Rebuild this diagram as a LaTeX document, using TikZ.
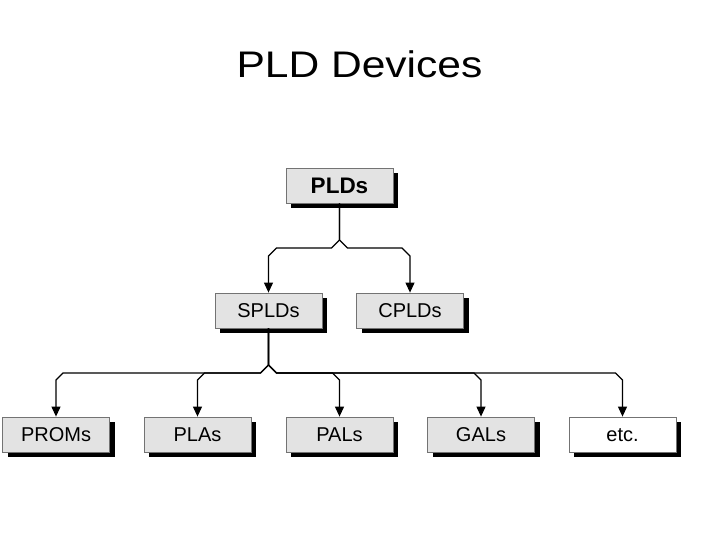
\documentclass[tikz,border=0pt]{standalone}
\usepackage{graphicx}
\usepackage{fontspec}
\setmainfont{Liberation Sans}
\usetikzlibrary{arrows.meta,shadows}
\begin{document}
\begin{tikzpicture}[x=1pt,y=-1pt]
	% Styles
	\tikzstyle{boite}=[draw=gray!90!black,line width=0.8pt,fill=gray!22,minimum width=107pt,minimum height=35pt,inner sep=0pt,text height=14.5pt,text depth=0pt,font=\fontsize{20}{22}\selectfont,drop shadow={shadow xshift=5pt,shadow yshift=-5pt,fill=black,opacity=1}]
	\tikzstyle{racine}=[boite,text height=16pt,font=\fontsize{22.5}{26}\selectfont\bfseries]
	\tikzstyle{vide}=[boite,fill=white]
	\tikzstyle{fleche}=[-{Triangle[length=10pt,width=9pt]},line width=1.1pt]
	% Dimensions
	\def\NiveauA{185.5}
	\def\NiveauB{310.5}
	\def\NiveauC{434.5}
	\useasboundingbox (0,0) rectangle (720,540);
	% Titre
	\node[anchor=base,font=\fontsize{37}{44}\selectfont] (titre) at (359.5,78) {\scalebox{1.15}[1]{PLD Devices}};
	% Noeuds
	\node[racine] (PLDs) at (339.5,\NiveauA) {PLDs};
	\node[boite] (SPLDs) at (268.5,\NiveauB) {SPLDs};
	\node[boite] (CPLDs) at (410,\NiveauB) {CPLDs};
	\node[boite] (PROMs) at (56,\NiveauC) {PROMs};
	\node[boite] (PLAs) at (197.5,\NiveauC) {PLAs};
	\node[boite] (PALs) at (339.5,\NiveauC) {PALs};
	\node[boite] (GALs) at (481,\NiveauC) {GALs};
	\node[vide] (etc) at (622.5,\NiveauC) {etc.};
	% Barres
	\coordinate (BarreA) at (0,248);
	\coordinate (BarreB) at (0,373);
	% Arcs
	\foreach \c/\s/\t in {SPLDs/-8/8,CPLDs/8/-8}
		\draw[fleche] (PLDs.south) -- ([yshift=8pt]PLDs.south |- BarreA) -- ([xshift=\s pt]PLDs.south |- BarreA) -- ([xshift=\t pt]\c.north |- BarreA) -- ([yshift=-8pt]\c.north |- BarreA) -- (\c.north);
	\foreach \c/\s/\t in {PROMs/-8/7,PLAs/-8/7,PALs/8/-7,GALs/8/-7,etc/8/-7}
		\draw[fleche] (SPLDs.south) -- ([yshift=8pt]SPLDs.south |- BarreB) -- ([xshift=\s pt]SPLDs.south |- BarreB) -- ([xshift=\t pt]\c.north |- BarreB) -- ([yshift=-7pt]\c.north |- BarreB) -- (\c.north);
\end{tikzpicture}
\end{document}
